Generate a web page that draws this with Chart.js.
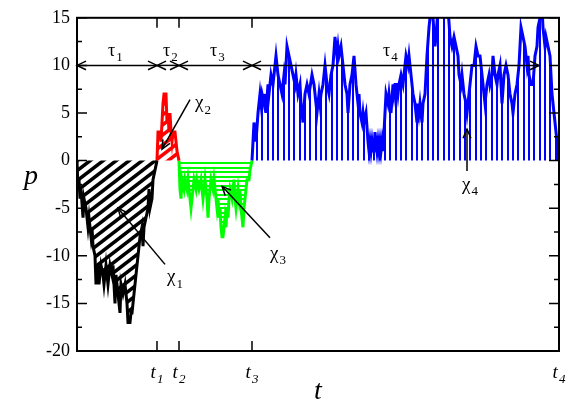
<!DOCTYPE html>
<html>
<head>
<meta charset="utf-8">
<script src="https://cdn.jsdelivr.net/npm/chart.js@4.4.1/dist/chart.umd.min.js"></script>
<style>
  body { margin: 0; background: #fff; }
  #chart { display: block; }
</style>
</head>
<body>
<canvas id="chart" width="569" height="403"></canvas>
<script>
// walk p(t), split into its four excursions, [t, p]
const blackWalk = [[0,0],[1,-3],[2,-2],[3,-4],[4,-3],[6,-6],[7,-4],[9,-5],[11,-7],[12,-6],[14,-8],[15,-7],[16,-9],[18,-10],[19,-13],[21,-11],[22,-13],[24,-11],[26,-12],[27,-13],[29,-11],[31,-13],[33,-11],[35,-12],[36,-11],[38,-15],[39,-12],[41,-14],[43,-16],[44,-13],[46,-14],[48,-13],[50,-15],[51,-17],[53,-17],[54,-16],[55,-16],[57,-14],[58,-13],[60,-11],[61,-10],[63,-8],[65,-7],[66,-9],[67,-7],[69,-6],[71,-5],[72,-3],[73,-5],[75,-4],[76,-2],[78,-1],[80,0]];
const redWalk = [[80,0],[81,3],[83,3],[84,2],[85,4],[86,6],[87,7],[89,7],[90,4],[91,5],[92,3],[93,5],[94,3],[95,2],[96,3],[98,3],[99,2],[100,1],[102,0]];
const greenWalk = [[102,0],[103,-3],[104,-4],[105,-2],[107,-3],[108,-2],[110,-3],[111,-2],[113,-4],[114,-5],[115,-4],[116,-3],[117,-2],[119,-3],[120,-2],[122,-3],[124,-2],[125,-3],[126,-4],[127,-3],[128,-2],[130,-4],[131,-6],[132,-4],[133,-3],[134,-2],[136,-3],[137,-2],[139,-4],[140,-5],[141,-4],[142,-6],[143,-5],[144,-7],[145,-8],[146,-8],[147,-7],[148,-6],[149,-7],[150,-5],[151,-6],[152,-4],[153,-3],[155,-4],[156,-3],[157,-2],[158,-4],[159,-5],[160,-4],[161,-3],[162,-4],[163,-3],[164,-5],[165,-6],[166,-7],[167,-5],[168,-4],[169,-3],[170,-2],[172,-2],[173,-1],[175,0]];
const blueWalk = [[175,0],[177,4],[179,2],[181,5],[183,7],[184,6],[185,7],[187,6],[188,7],[189,5],[191,8],[192,7],[194,9],[196,8],[199,11],[201,9],[203,8],[205,7],[207,9],[208,8],[210,12],[212,11],[214,10],[216,9],[218,8],[219,9],[221,7],[223,8],[224,6],[226,4],[228,7],[230,8],[232,7],[235,9],[237,8],[239,6],[240,5],[242,7],[243,6],[244,7],[246,8],[248,10],[250,8],[252,7],[254,9],[256,10],[258,13],[260,11],[261,12],[262,11],[264,12],[266,10],[268,8],[270,7],[271,5],[273,8],[275,9],[277,11],[279,8],[281,6],[282,7],[283,5],[285,4],[286,5],[287,4],[289,5],[291,2],[292,1],[293,2],[294,1],[295,2],[296,1],[297,1],[298,3],[299,2],[300,1],[301,2],[302,1],[303,2],[304,1],[305,2],[306,1],[307,3],[309,7],[311,6],[312,7],[314,5],[316,8],[317,7],[318,8],[320,8],[321,7],[322,8],[324,9],[326,8],[327,9],[329,11],[331,10],[332,11],[334,9],[336,7],[338,6],[340,4],[341,6],[342,5],[343,6],[345,4],[346,6],[348,7],[350,11],[352,14],[354,16],[356,15],[358,12],[359,13],[361,16],[363,17],[366,16],[368,17],[371,16],[373,13],[375,12],[377,13],[379,12],[381,11],[382,9],[384,8],[385,9],[387,7],[389,6],[390,5],[391,6],[393,8],[395,10],[397,10],[399,12],[401,11],[403,11],[405,9],[407,7],[408,6],[410,8],[412,9],[413,8],[415,9],[416,11],[418,9],[420,8],[421,9],[423,10],[425,6],[427,9],[429,10],[431,9],[433,7],[435,6],[436,5],[438,7],[440,8],[442,10],[444,14],[446,13],[448,12],[450,10],[451,11],[452,9],[454,8],[456,8],[458,11],[460,12],[461,14],[463,15],[465,16],[466,14],[468,12],[469,13],[471,12],[473,11],[475,7],[476,6],[478,4],[480,2],[481,0]];

// excursion boundaries t1..t4 and their labels
const tMarks = [80, 102, 175, 482];
const tNames = ['1', '2', '3', '4'];

// tau arrows at p = 10, ends in t
const tauLevel = 10;
const tauEnds = [0, 80, 102, 175, 462];
const tauLabels = [[31, 11], [86, 11], [133, 11], [306, 11]];

// chi pointers: [tailT, tailP, headT, headP], labels [t, p]
const chiArrows = [[88, -10.9, 41, -5], [113, 6.4, 85, 1.2], [193, -8.1, 145, -2.7], [390, -1.1, 390, 3.3]];
const chiLabels = [[90, -12.8], [118, 5.5], [193, -10.3], [385, -3.1]];

const SERIF = "'Liberation Serif', 'Times New Roman', serif";

// hatch fills
function hatch(color, kind) {
    const c = document.createElement('canvas');
    const g = c.getContext('2d');
    if (kind === 'diag') {
        c.width = 13; c.height = 10;
        g.strokeStyle = color;
        g.lineWidth = 3.5;
        for (const dx of [-13, 0, 13]) {
            g.beginPath();
            g.moveTo(dx - 13, 20);
            g.lineTo(dx + 26, -10);
            g.stroke();
        }
    } else if (kind === 'horiz') {
        c.width = 4; c.height = 9;
        g.fillStyle = color;
        g.fillRect(0, 0, 4, 2);
        g.fillRect(0, 5, 4, 2);
    } else {
        c.width = 16; c.height = 4;
        g.fillStyle = color;
        g.fillRect(0, 0, 2, 4);
        g.fillRect(5, 0, 2, 4);
        g.fillRect(11, 0, 2, 4);
    }
    return g.createPattern(c, 'repeat');
}

function segment(walk, color, kind) {
    return {
        data: walk.map(([t, p]) => ({ x: t, y: p })),
        borderColor: color,
        backgroundColor: hatch(color, kind),
        borderWidth: 3,
        pointRadius: 0,
        tension: 0,
        fill: 'origin'
    };
}

// text with a subscript
function subText(ctx, base, sub, x, y, size, italic, align) {
    const f1 = (italic ? 'italic ' : '') + size + 'px ' + SERIF;
    const f2 = (italic ? 'italic ' : '') + Math.round(size * 0.7) + 'px ' + SERIF;
    ctx.font = f1;
    const w1 = ctx.measureText(base).width;
    ctx.font = f2;
    const w2 = ctx.measureText(sub).width;
    let x0 = align === 'center' ? x - (w1 + w2 + 1) / 2 : x;
    ctx.textAlign = 'left';
    ctx.textBaseline = 'alphabetic';
    ctx.font = f1;
    ctx.fillText(base, x0, y);
    ctx.font = f2;
    ctx.fillText(sub, x0 + w1 + 1, y + size * 0.28);
}

function arrowHead(ctx, x1, y1, x2, y2, len, half) {
    const a = Math.atan2(y2 - y1, x2 - x1);
    const c = Math.cos(a), s = Math.sin(a);
    ctx.beginPath();
    ctx.moveTo(x2 - len * c + half * s, y2 - len * s - half * c);
    ctx.lineTo(x2, y2);
    ctx.lineTo(x2 - len * c - half * s, y2 - len * s + half * c);
    ctx.stroke();
}

const decor = {
    id: 'decor',
    afterDraw(chart) {
        const { ctx, chartArea: a, scales: { x, y } } = chart;
        ctx.save();
        ctx.strokeStyle = '#000';
        ctx.fillStyle = '#000';

        // frame
        ctx.lineWidth = 2;
        ctx.strokeRect(a.left, a.top, a.right - a.left, a.bottom - a.top);

        // inward ticks
        ctx.lineWidth = 1.5;
        ctx.beginPath();
        for (let v = y.min; v <= y.max; v += 2.5) {
            const py = y.getPixelForValue(v);
            const len = v % 5 === 0 ? 10 : 5;
            ctx.moveTo(a.left, py); ctx.lineTo(a.left + len, py);
            ctx.moveTo(a.right, py); ctx.lineTo(a.right - len, py);
        }
        for (const t of tMarks.slice(0, 3)) {
            const px = x.getPixelForValue(t);
            ctx.moveTo(px, a.bottom); ctx.lineTo(px, a.bottom - 10);
            ctx.moveTo(px, a.top); ctx.lineTo(px, a.top + 10);
        }
        ctx.stroke();

        // t_i labels
        tMarks.forEach((t, i) => {
            subText(ctx, 't', tNames[i], x.getPixelForValue(t), a.bottom + 27, 19, true, 'center');
        });

        // axis titles
        ctx.font = 'italic 28px ' + SERIF;
        ctx.textAlign = 'center';
        ctx.textBaseline = 'alphabetic';
        ctx.fillText('p', 31, (a.top + a.bottom) / 2);
        ctx.fillText('t', (a.left + a.right) / 2, a.bottom + 48);

        // tau arrows
        ctx.lineWidth = 1.5;
        const ly = y.getPixelForValue(tauLevel);
        for (let i = 0; i < tauEnds.length - 1; i++) {
            const p1 = x.getPixelForValue(tauEnds[i]);
            const p2 = x.getPixelForValue(tauEnds[i + 1]);
            ctx.beginPath();
            ctx.moveTo(p1, ly); ctx.lineTo(p2, ly);
            ctx.stroke();
            arrowHead(ctx, p2, ly, p1, ly, 9, 4.3);
            arrowHead(ctx, p1, ly, p2, ly, 9, 4.3);
        }
        tauLabels.forEach(([t, p], i) => {
            subText(ctx, 'τ', String(i + 1), x.getPixelForValue(t), y.getPixelForValue(p), 18, false, 'left');
        });

        // chi pointers
        chiArrows.forEach(([t1, p1, t2, p2]) => {
            const x1 = x.getPixelForValue(t1), y1 = y.getPixelForValue(p1);
            const x2 = x.getPixelForValue(t2), y2 = y.getPixelForValue(p2);
            ctx.beginPath();
            ctx.moveTo(x1, y1); ctx.lineTo(x2, y2);
            ctx.stroke();
            arrowHead(ctx, x1, y1, x2, y2, 9, 4);
        });
        chiLabels.forEach(([t, p], i) => {
            subText(ctx, 'χ', String(i + 1), x.getPixelForValue(t), y.getPixelForValue(p), 19, false, 'left');
        });
        ctx.restore();
    }
};

new Chart(document.getElementById('chart'), {
    type: 'line',
    data: {
        datasets: [
            segment(blackWalk, '#000000', 'diag'),
            segment(redWalk, '#ff0000', 'diag'),
            segment(greenWalk, '#00ff00', 'horiz'),
            segment(blueWalk, '#0000ff', 'vert')
        ]
    },
    options: {
        responsive: false,
        animation: false,
        devicePixelRatio: 1,
        layout: { padding: { top: 12, right: 10, left: 0, bottom: 0 } },
        plugins: { legend: { display: false }, tooltip: { enabled: false } },
        scales: {
            x: {
                type: 'linear',
                min: 0,
                max: 482,
                grid: { display: false },
                border: { display: false },
                ticks: { display: false },
                afterFit: (s) => { s.height = 52; }
            },
            y: {
                min: -20,
                max: 15,
                grid: { display: false, drawTicks: false },
                border: { display: false },
                ticks: {
                    stepSize: 5,
                    padding: 7,
                    color: '#000',
                    font: { family: SERIF, size: 18 }
                },
                afterFit: (s) => { s.width = 77; }
            }
        }
    },
    plugins: [decor]
});
</script>
</body>
</html>
